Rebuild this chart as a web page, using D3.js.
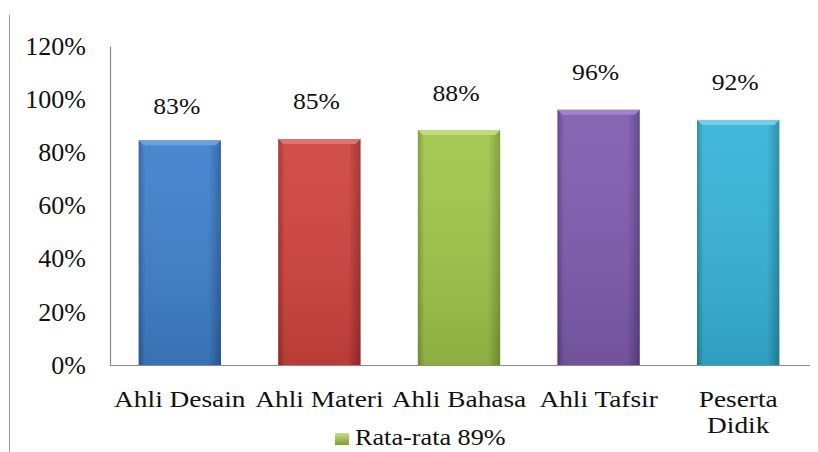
<!DOCTYPE html>
<html><head><meta charset="utf-8">
<script src="https://cdn.jsdelivr.net/npm/d3@7"></script>
</head><body style="margin:0;background:#fff">
<svg id="c" width="818" height="452" style="display:block"></svg>
<script>
const categories = [["Ahli Desain"], ["Ahli Materi"], ["Ahli Bahasa"], ["Ahli Tafsir"], ["Peserta", "Didik"]];
const barValues = [84.5, 85, 88.4, 96, 92.2];
const labelValues = [83, 85, 88, 96, 92];
const valueLabels = ["83%", "85%", "88%", "96%", "92%"];
const colors = [
  {mid:"#3f80cc", edge:"#2c5e9e", top:"#6ea4e0"},
  {mid:"#d0433f", edge:"#9e2c2a", top:"#ea7270"},
  {mid:"#a0c64a", edge:"#7a9a33", top:"#c4e07a"},
  {mid:"#7f5caf", edge:"#5c3f86", top:"#a486cf"},
  {mid:"#36b4d8", edge:"#2387a6", top:"#72d2ee"}
];
const yTicks = [0, 20, 40, 60, 80, 100, 120];
const legendLabel = "Rata-rata 89%";

const FONT = '"Liberation Serif", serif';
const svg = d3.select("#c");
const m = {left:110, right:808, top:46, bottom:365};

const x = d3.scaleBand().domain(d3.range(categories.length)).range([m.left, m.right]).paddingInner(0.41).paddingOuter(0.205);
const y = d3.scaleLinear().domain([0, 120]).range([m.bottom, m.top]);

const defs = svg.append("defs");
colors.forEach((c, i) => {
  const g = defs.append("linearGradient").attr("id", "g" + i).attr("x1", "0").attr("x2", "1").attr("y1", "0").attr("y2", "0");
  g.append("stop").attr("offset", "0").attr("stop-color", c.edge);
  g.append("stop").attr("offset", "0.08").attr("stop-color", c.mid);
  g.append("stop").attr("offset", "0.85").attr("stop-color", c.mid);
  g.append("stop").attr("offset", "1").attr("stop-color", c.edge);
  const v = defs.append("linearGradient").attr("id", "v" + i).attr("x1", "0").attr("x2", "0").attr("y1", "0").attr("y2", "1");
  v.append("stop").attr("offset", "0").attr("stop-color", "#fff").attr("stop-opacity", 0.06);
  v.append("stop").attr("offset", "1").attr("stop-color", "#000").attr("stop-opacity", 0.12);
});
const lg = defs.append("linearGradient").attr("id", "lg").attr("x1", "0").attr("x2", "0").attr("y1", "0").attr("y2", "1");
lg.append("stop").attr("offset", "0").attr("stop-color", "#c6e07e");
lg.append("stop").attr("offset", "1").attr("stop-color", "#7d9c38");

// left border line
svg.append("line").attr("x1", 9.5).attr("x2", 9.5).attr("y1", 15).attr("y2", 452).attr("stroke", "#999").attr("stroke-width", 1);

// y axis
const yAxis = d3.axisLeft(y).tickValues(yTicks).tickFormat(d => d + "%").tickSize(0).tickPadding(24);
const ya = svg.append("g").attr("transform", `translate(${m.left},0)`).call(yAxis);
ya.attr("font-family", FONT).attr("font-size", 26);
ya.select(".domain").attr("stroke", "#8a8a8a").attr("stroke-width", 1.2);
ya.selectAll("text").style("font-family", FONT).style("font-size", "26px").attr("fill", "#111");

// bars
const bars = svg.append("g");
barValues.forEach((v, i) => {
  const bx = x(i), bw = x.bandwidth(), by = y(v), bh = y(0) - y(v);
  bars.append("rect").attr("x", bx).attr("y", by).attr("width", bw).attr("height", bh).attr("fill", `url(#g${i})`);
  bars.append("rect").attr("x", bx).attr("y", by).attr("width", bw).attr("height", bh).attr("fill", `url(#v${i})`);
  bars.append("path")
    .attr("d", `M${bx},${by} L${bx + bw},${by} L${bx + bw - 5},${by + 5} L${bx + 5},${by + 5} Z`)
    .attr("fill", colors[i].top).attr("opacity", 0.9);
});

// baseline
svg.append("line").attr("x1", m.left).attr("x2", m.right + 2).attr("y1", y(0) + 0.5).attr("y2", y(0) + 0.5).attr("stroke", "#8a8a8a").attr("stroke-width", 1.2);

// value labels
svg.append("g").selectAll("text").data(valueLabels).join("text")
  .attr("transform", (d, i) => `translate(${x(i) + x.bandwidth() / 2 - 3},${y(labelValues[i]) - 30}) scale(1.07,1)`)
  .attr("text-anchor", "middle").style("font-family", FONT).style("font-size", "24px").attr("fill", "#111")
  .text(d => d);

// category labels
const cat = svg.append("g");
categories.forEach((lines, i) => {
  const t = cat.append("text")
    .attr("transform", `translate(${x(i) + x.bandwidth() / 2},${y(0) + 42}) scale(1.14,1)`)
    .attr("text-anchor", "middle").style("font-family", FONT).style("font-size", "24px").attr("fill", "#111");
  lines.forEach((l, j) => t.append("tspan").attr("x", 0).attr("dy", j === 0 ? 0 : 26).text(l));
});

// legend
const leg = svg.append("g").attr("transform", "translate(335,433)");
leg.append("rect").attr("width", 14).attr("height", 12).attr("fill", "url(#lg)");
leg.append("text").attr("transform", "translate(20,12) scale(1.14,1)").style("font-family", FONT).style("font-size", "23px").attr("fill", "#111").text(legendLabel);
</script>
</body></html>
